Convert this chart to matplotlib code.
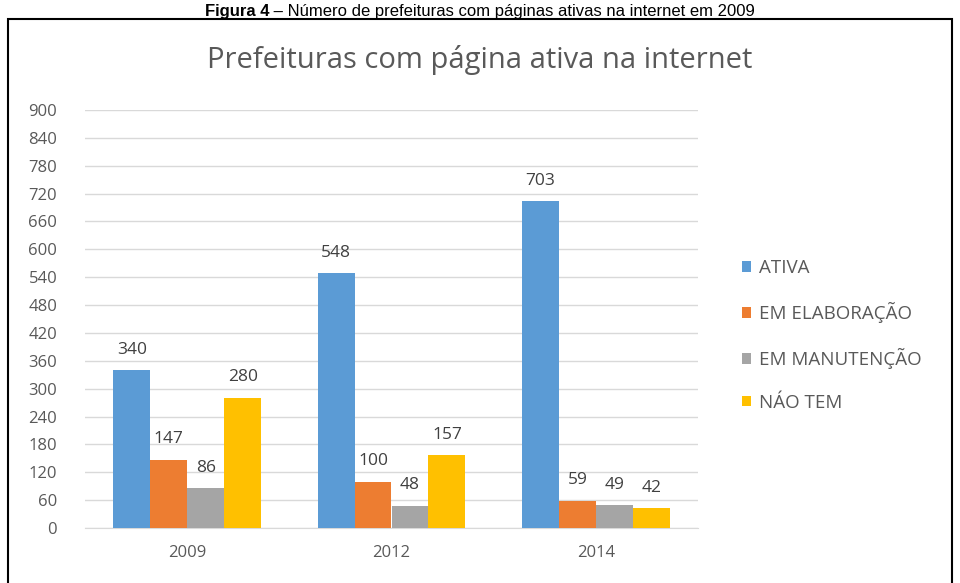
import matplotlib
matplotlib.use("Agg")
import matplotlib.pyplot as plt
import numpy as np
from matplotlib.patches import Rectangle

years = ["2009", "2012", "2014"]
series_names = ["ATIVA", "EM ELABORAÇÃO", "EM MANUTENÇÃO", "NÁO TEM"]
ativa = [340, 548, 703]
elaboracao = [147, 100, 59]
manutencao = [86, 48, 49]
nao_tem = [280, 157, 42]
yticks = list(range(0, 901, 60))
colors = ["#5B9BD5", "#ED7D31", "#A5A5A5", "#FFC000"]
caption_bold = "Figura 4"
caption_rest = " – Número de prefeituras com páginas ativas na internet em 2009"

plt.rcParams['font.family'] = ['Open Sans', 'DejaVu Sans']

W, H = 960, 583
fig = plt.figure(figsize=(9.6, 5.83), dpi=100)
left, right, top, bottom = 85, 698, 110, 528
ax = fig.add_axes([left / W, 1 - bottom / H, (right - left) / W, (bottom - top) / H])

data = [ativa, elaboracao, manutencao, nao_tem]
x = np.arange(len(years))
w = 0.181
for i, (vals, name, c) in enumerate(zip(data, series_names, colors)):
    pos = x + (i - 1.5) * w
    bars = ax.bar(pos, vals, width=w, color=c, label=name, zorder=3)
    for b, v in zip(bars, vals):
        ax.annotate(str(v), (b.get_x() + b.get_width() / 2, v), xytext=(0, 9),
                    textcoords='offset points', ha='center', va='bottom',
                    fontsize=12.5, color='#404040')

ax.set_ylim(0, 900)
ax.set_xlim(-0.5, 2.5)
ax.set_yticks(yticks)
ax.set_yticklabels([str(t) for t in yticks], fontsize=12, color='#595959')
ax.set_xticks(x)
ax.set_xticklabels(years, fontsize=12, color='#595959')
ax.grid(axis='y', color='#D9D9D9', linewidth=1, zorder=0)
for s in ['top', 'right', 'left']:
    ax.spines[s].set_visible(False)
ax.spines['bottom'].set_color('#D9D9D9')
ax.tick_params(axis='y', length=0, pad=20)
ax.tick_params(axis='x', length=0, pad=12)

leg = fig.legend(loc='upper left', bbox_to_anchor=(725 / W, 1 - 242 / H), frameon=False,
                 fontsize=13.5, handlelength=0.5, handleheight=0.5, handletextpad=0.4,
                 labelspacing=1.33, labelcolor='#595959')

fig.text(0.5, 1 - 60 / H, "Prefeituras com página ativa na internet", ha='center', va='center',
         fontsize=21, color='#595959')

# outer border
fig.add_artist(Rectangle((8 / W, -0.01), (952 - 8) / W, 1.01 - 19 / H, transform=fig.transFigure,
                         fill=False, edgecolor='black', linewidth=1.5))

# caption: bold part + regular part, centred together
cap_fs = 12
cap_y = 1 - 16 / H
renderer = fig.canvas.get_renderer()
t1 = fig.text(0, cap_y, caption_bold, ha='left', va='baseline', fontsize=cap_fs,
              fontweight='bold', family=['Liberation Sans', 'DejaVu Sans'])
t2 = fig.text(0, cap_y, caption_rest, ha='left', va='baseline', fontsize=cap_fs,
              family=['Liberation Sans', 'DejaVu Sans'])
w1 = t1.get_window_extent(renderer).width
w2 = t2.get_window_extent(renderer).width
start = (W - (w1 + w2)) / 2
t1.set_x(start / W)
t2.set_x((start + w1) / W)

fig.savefig("out.png", dpi=100)
